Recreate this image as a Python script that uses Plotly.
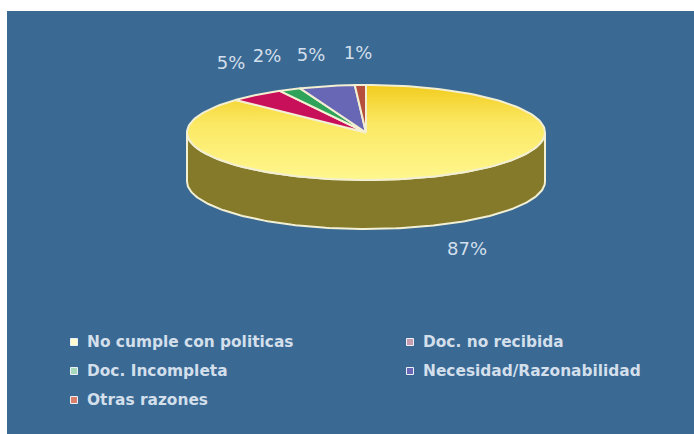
import numpy as np
import plotly.graph_objects as go

# Reasons and their share of the total, clockwise from twelve o'clock
categories = ["No cumple con politicas", "Doc. no recibida", "Doc. Incompleta",
              "Necesidad/Razonabilidad", "Otras razones"]
values = [87, 5, 2, 5, 1]

top_fill = ["#F7DC45", "#C8105A", "#2FA35A", "#6767B5", "#B5503C"]
swatch_fill = ["#FFFBD0", "#C89CB0", "#A6D8BC", "#6767B5", "#D8806C"]
SIDE_FILL = "#857A2A"
EDGE = "#F3EFD2"
PANEL = "#3A6A94"
TEXT = "#D3DFEB"

# Disc geometry, in the pixel-based axis units used below
CX, CY, RX, RY, DEPTH = 366, 132.5, 179, 47.5, 49

# Anchor for each percentage label, in slice order
label_x = [467, 231, 267, 311, 358]
label_y = [250, 64, 57, 56, 54]

# Legend layout: swatch column and row for each category
legend_x = [74, 410, 74, 410, 74]
legend_y = [342, 342, 371, 371, 400]
LEGEND_TEXT_GAP = 13
LEGEND_TEXT_DROP = 1.5


def rim(a0, a1, n=160):
    """Points on the top ellipse between two clockwise angles from the top."""
    t = np.radians(np.linspace(a0, a1, n))
    return CX + RX * np.sin(t), CY - RY * np.cos(t)


fig = go.Figure()
shares = np.array(values) / sum(values) * 360
starts = np.concatenate([[0], np.cumsum(shares)[:-1]])

# Outer wall: only the front half of the disc (90 to 270 degrees) is visible
for start, share in zip(starts, shares):
    a0, a1 = max(start, 90), min(start + share, 270)
    if a1 > a0:
        x, y = rim(a0, a1)
        fig.add_trace(go.Scatter(
            x=np.r_[x, x[::-1], x[0]], y=np.r_[y, y[::-1] + DEPTH, y[0]],
            mode="lines", fill="toself", fillcolor=SIDE_FILL,
            line=dict(color=EDGE, width=2), hoverinfo="skip"))

# Top face, one wedge per category; the largest carries a vertical gradient
for i, (name, start, share) in enumerate(zip(categories, starts, shares)):
    x, y = rim(start, start + share)
    style = dict(fillcolor=top_fill[i])
    if i == 0:
        style = dict(fillgradient=dict(
            type="vertical", start=CY - RY, stop=CY + RY,
            colorscale=[[0, "#F2CC1E"], [0.4, "#FBE863"], [1, "#FFF78E"]]))
    fig.add_trace(go.Scatter(
        x=np.r_[CX, x, CX], y=np.r_[CY, y, CY], mode="lines", fill="toself",
        line=dict(color=EDGE, width=2), name=name, **style))

# Percentage labels
fig.add_trace(go.Scatter(
    x=label_x, y=label_y, mode="text", text=[f"{v}%" for v in values],
    textfont=dict(family="DejaVu Sans", size=18, color=TEXT), hoverinfo="skip"))

# Hand-placed two-column legend: swatches, then their captions
fig.add_trace(go.Scatter(
    x=legend_x, y=legend_y, mode="markers",
    marker=dict(symbol="square", size=7, color=swatch_fill,
                line=dict(color="#EAF0F5", width=1)),
    hoverinfo="skip"))
fig.add_trace(go.Scatter(
    x=[x + LEGEND_TEXT_GAP for x in legend_x],
    y=[y + LEGEND_TEXT_DROP for y in legend_y], mode="text",
    text=categories, textposition="middle right",
    textfont=dict(family="DejaVu Sans", size=15.4, color=TEXT, weight="bold"),
    hoverinfo="skip"))

fig.update_layout(
    width=694, height=434, showlegend=False,
    margin=dict(l=7, r=0, t=11, b=0),
    paper_bgcolor="white", plot_bgcolor=PANEL,
    xaxis=dict(range=[7, 694], visible=False, fixedrange=True),
    yaxis=dict(range=[434, 11], visible=False, fixedrange=True),
)
fig.write_html("out.html", config=dict(displayModeBar=False))
